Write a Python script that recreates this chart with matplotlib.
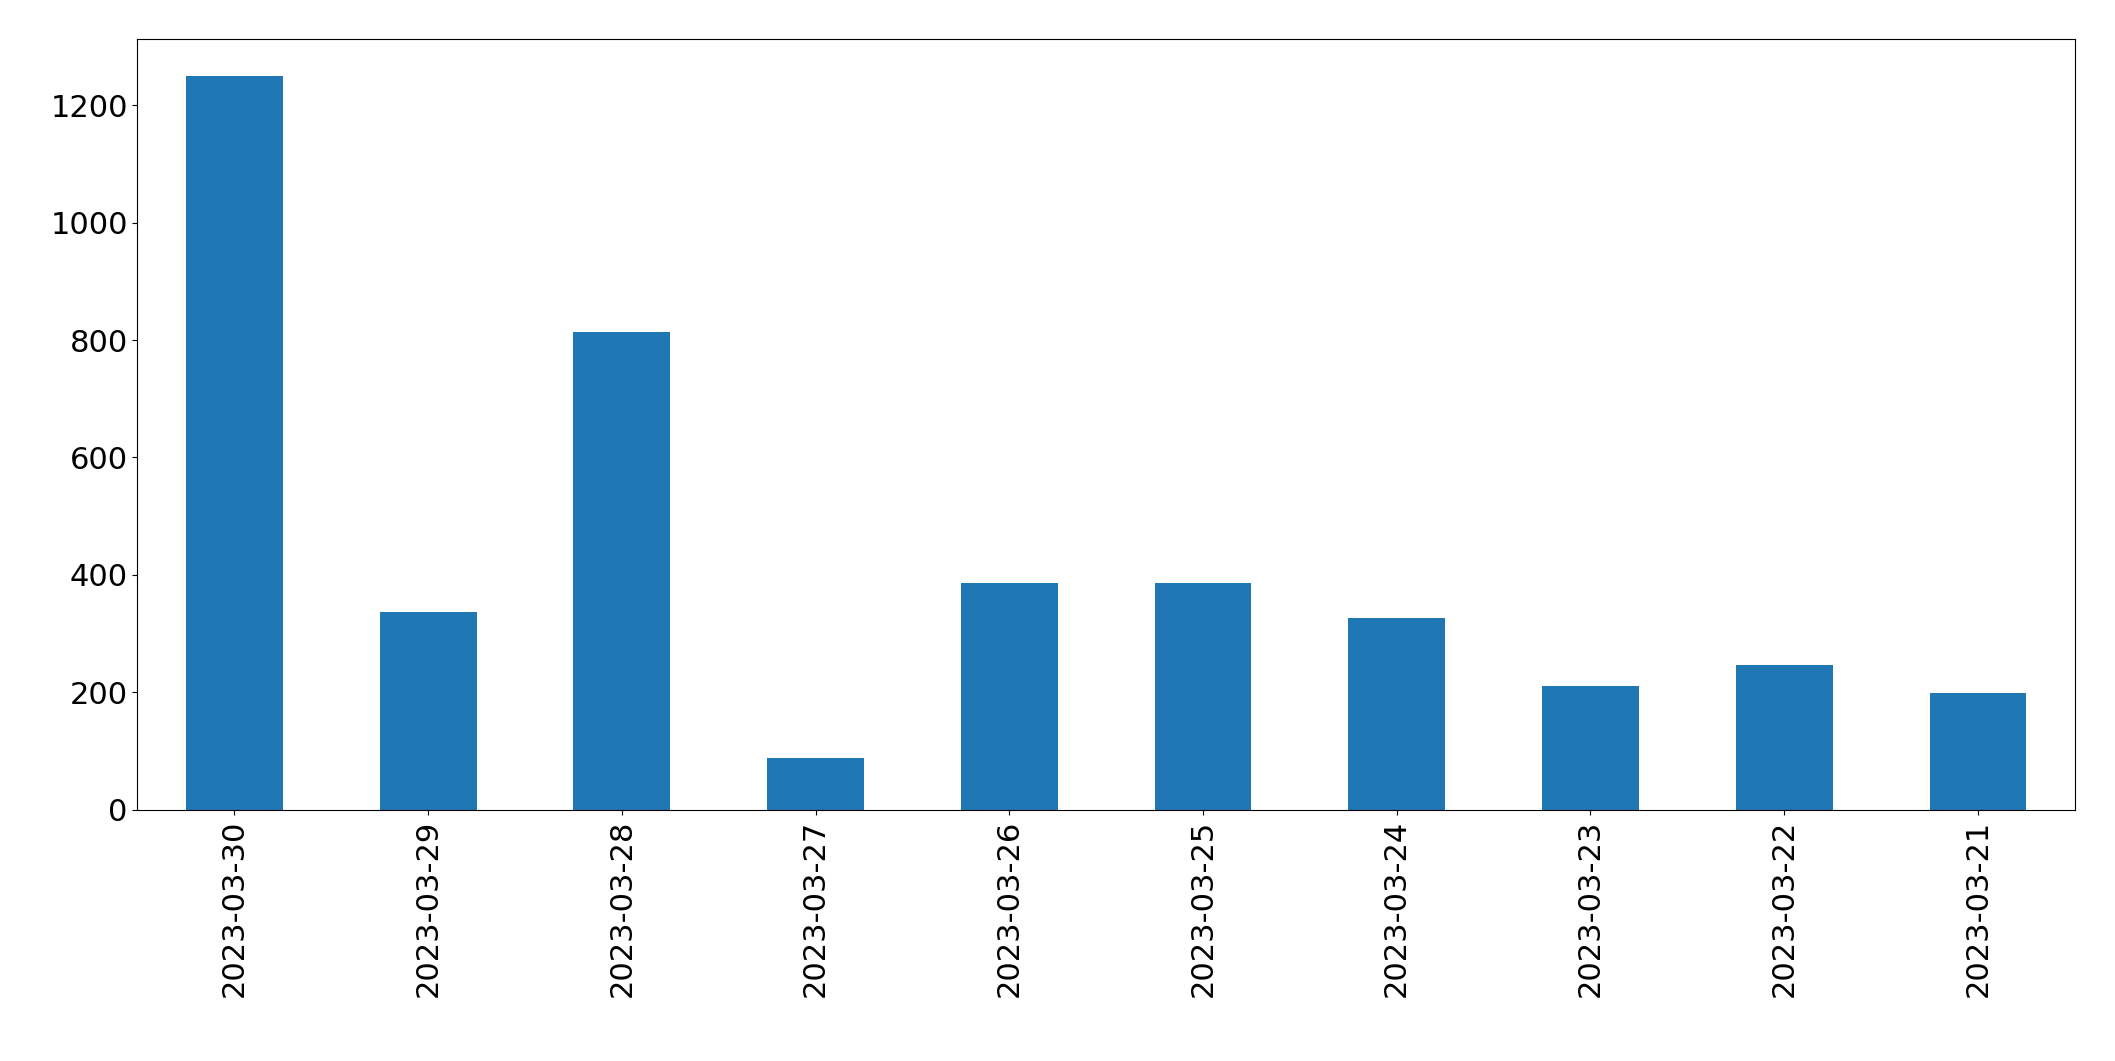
import matplotlib
matplotlib.use("Agg")
import matplotlib.pyplot as plt
import numpy as np

dates = ["2023-03-30", "2023-03-29", "2023-03-28", "2023-03-27", "2023-03-26",
         "2023-03-25", "2023-03-24", "2023-03-23", "2023-03-22", "2023-03-21"]
counts = [1250, 336, 814, 87, 386, 386, 326, 211, 246, 198]

fig = plt.figure(figsize=(21.15, 10.61), dpi=100)
ax = fig.add_axes([0.065, 0.237, 0.916, 0.726])
x = np.arange(len(dates))
ax.bar(x, counts, width=0.5, color="#1f77b4")
ax.set_xlim(-0.5, len(dates) - 0.5)
ax.set_xticks(x)
ax.set_xticklabels(dates, rotation=90)
ax.tick_params(labelsize=22)
fig.savefig("out.png")
